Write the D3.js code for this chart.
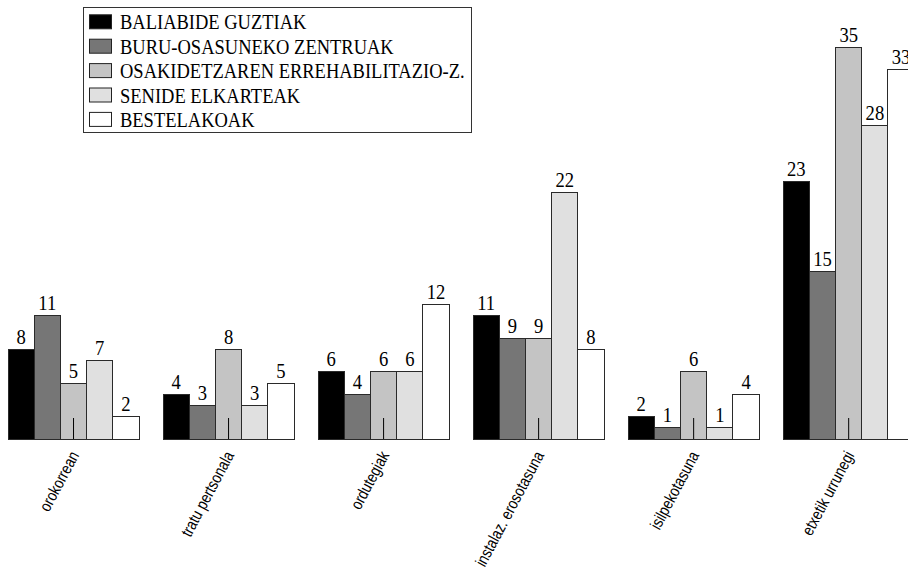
<!DOCTYPE html>
<html>
<head>
<meta charset="utf-8">
<script src="https://cdn.jsdelivr.net/npm/d3@7/dist/d3.min.js"></script>
<style>
  html, body { margin: 0; padding: 0; background: #fff; }
  svg { display: block; }
</style>
</head>
<body>
<svg id="chart" width="908" height="574"></svg>
<script>
// Categories along the x axis
const categories = [
  "orokorrean",
  "tratu pertsonala",
  "ordutegiak",
  "instalaz. erosotasuna",
  "isilpekotasuna",
  "etxetik urrunegi"
];

// Series names (legend order)
const seriesNames = [
  "BALIABIDE GUZTIAK",
  "BURU-OSASUNEKO ZENTRUAK",
  "OSAKIDETZAREN ERREHABILITAZIO-Z.",
  "SENIDE ELKARTEAK",
  "BESTELAKOAK"
];

// Values per series, one per category
const baliabideGuztiak   = [8, 4, 6, 11, 2, 23];
const buruOsasunekoZentr = [11, 3, 4, 9, 1, 15];
const osakidetzaErrehab  = [5, 8, 6, 9, 6, 35];
const senideElkarteak    = [7, 3, 6, 22, 1, 28];
const bestelakoak        = [2, 5, 12, 8, 4, 33];

const seriesValues = [baliabideGuztiak, buruOsasunekoZentr, osakidetzaErrehab, senideElkarteak, bestelakoak];
const seriesColors = ["#000000", "#767676", "#c4c4c4", "#e0e0e0", "#ffffff"];

const svg = d3.select("#chart");
const baseY = 438.5;
const serif = "'Liberation Serif', 'DejaVu Serif', serif";

// Scales
const x0 = d3.scaleBand()
  .domain(categories)
  .range([-4.5, 925.7])
  .paddingInner(0.155)
  .paddingOuter(0.0775);

const x1 = d3.scaleBand()
  .domain(seriesNames)
  .range([0, x0.bandwidth()]);

const y = d3.scaleLinear()
  .domain([0, 35])
  .range([baseY, 46.5]);

const color = d3.scaleOrdinal().domain(seriesNames).range(seriesColors);

// Flattened rows for drawing
const rows = [];
categories.forEach((c, ci) => {
  seriesNames.forEach((s, si) => {
    rows.push({ category: c, series: s, value: seriesValues[si][ci] });
  });
});

const barLeft = d => Math.round(x0(d.category) + x1(d.series));
const barRight = d => Math.round(x0(d.category) + x1(d.series) + x1.bandwidth());

// Bars
svg.append("g")
  .selectAll("rect")
  .data(rows)
  .join("rect")
  .attr("x", d => barLeft(d) + 0.5)
  .attr("y", d => Math.round(y(d.value)) + 0.5)
  .attr("width", d => barRight(d) - barLeft(d))
  .attr("height", d => Math.round(baseY) - Math.round(y(d.value)))
  .attr("fill", d => color(d.series))
  .attr("stroke", "#2a2a2a")
  .attr("stroke-width", 1);

// Value labels above bars (slightly condensed serif)
svg.append("g")
  .selectAll("text")
  .data(rows)
  .join("text")
  .attr("transform", d => `translate(${x0(d.category) + x1(d.series) + x1.bandwidth() / 2 + 0.5},${y(d.value) - 5}) scale(0.93,1)`)
  .attr("text-anchor", "middle")
  .attr("font-family", serif)
  .attr("font-size", 20)
  .attr("fill", "#000")
  .text(d => d.value);

// Category ticks pointing up into the middle bar
const axis = d3.axisBottom(x0).tickSize(-21).tickFormat("");
const axisG = svg.append("g")
  .attr("transform", `translate(0,${Math.round(baseY)})`)
  .call(axis);
axisG.select(".domain").remove();
axisG.selectAll(".tick line")
  .attr("stroke", "#000")
  .attr("stroke-width", 1)
  .attr("transform", "translate(0.5,0)");

// Rotated category labels (narrowed sans)
svg.append("g")
  .selectAll("text")
  .data(categories)
  .join("text")
  .attr("transform", d => `translate(${x0(d) + x0.bandwidth() / 2 + 6.5},455) rotate(-62) scale(0.82,1)`)
  .attr("text-anchor", "end")
  .attr("font-family", "'Liberation Sans', 'DejaVu Sans', sans-serif")
  .attr("font-size", 16.5)
  .attr("fill", "#000")
  .text(d => d);

// Legend
const legend = svg.append("g");
legend.append("rect")
  .attr("x", 83.5).attr("y", 7.5)
  .attr("width", 388).attr("height", 125)
  .attr("fill", "#fff")
  .attr("stroke", "#333")
  .attr("stroke-width", 1);

const legendRows = legend.selectAll("g.item")
  .data(seriesNames)
  .join("g")
  .attr("class", "item")
  .attr("transform", (d, i) => `translate(0,${29.3 + i * 24.4})`);

legendRows.append("rect")
  .attr("x", 89.5).attr("y", -14.5)
  .attr("width", 22).attr("height", 14)
  .attr("fill", d => color(d))
  .attr("stroke", "#222")
  .attr("stroke-width", 1);

legendRows.append("text")
  .attr("transform", "translate(120,0) scale(0.925,1)")
  .attr("font-family", serif)
  .attr("font-size", 20)
  .attr("fill", "#000")
  .text(d => d);
</script>
</body>
</html>
